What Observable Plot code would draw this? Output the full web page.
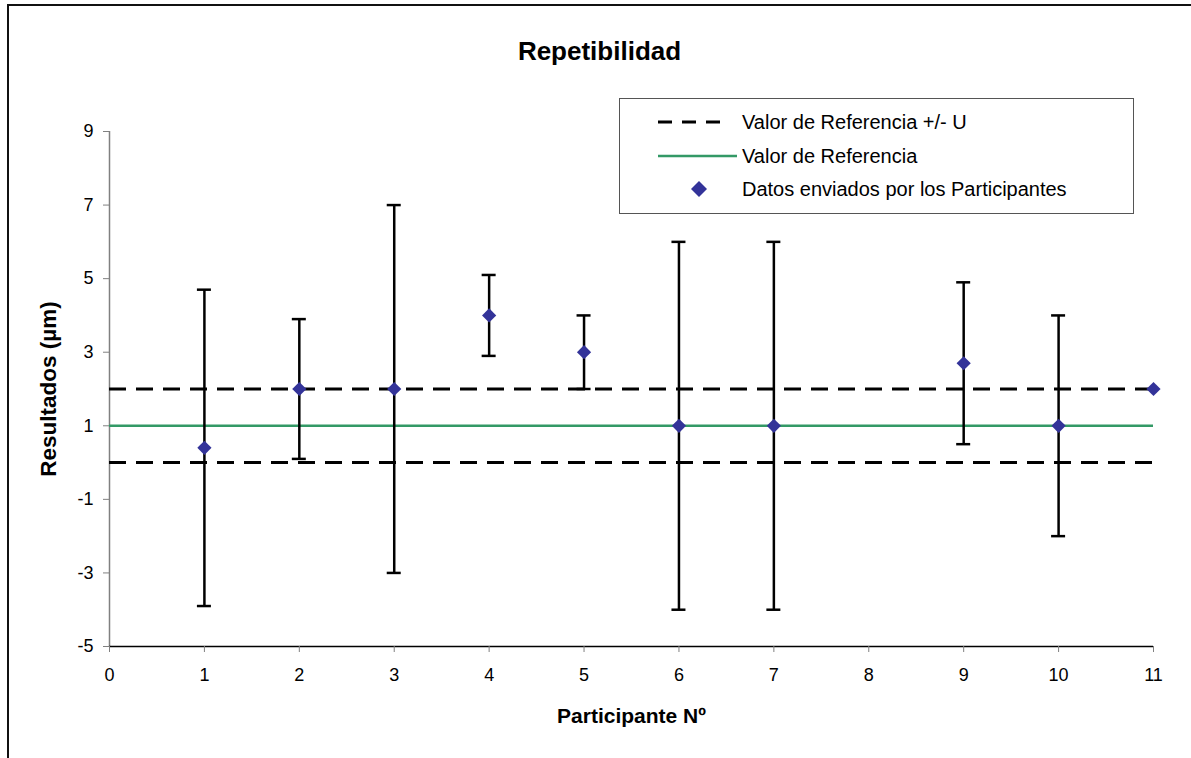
<!DOCTYPE html>
<html>
<head>
<meta charset="utf-8">
<script src="https://cdn.jsdelivr.net/npm/d3@7"></script>
<script src="https://cdn.jsdelivr.net/npm/@observablehq/plot@0.6"></script>
<style>
  html, body { margin: 0; padding: 0; background: #fff; }
  #wrap { position: relative; width: 1191px; height: 758px; overflow: hidden; font-family: "Liberation Sans", Arial, sans-serif; }
  #frame { position: absolute; left: 7px; top: 4px; width: 1300px; height: 900px; border: 2px solid #111; box-sizing: border-box; }
  #chart { position: absolute; left: 0; top: 0; }
  #title { position: absolute; left: 0; width: 1199px; top: 36px; text-align: center; font-weight: bold; font-size: 26px; color: #000; }
  #legend { position: absolute; left: 619px; top: 98px; width: 515px; height: 116px; border: 1.5px solid #555; box-sizing: border-box; background: #fff; }
  .row { position: absolute; left: 0; height: 30px; display: flex; align-items: center; font-size: 20px; color: #000; }
  .row svg { display: block; }
</style>
</head>
<body>
<div id="wrap">
  <div id="frame"></div>
  <div id="chart"></div>
  <div id="title">Repetibilidad</div>
  <div id="legend"></div>
</div>
<script>
// ---- data ----
const participants = [1, 2, 3, 4, 5, 6, 7, 9, 10, 11];
const values       = [0.4, 2, 2, 4, 3, 1, 1, 2.7, 1, 2];
const upper        = [4.7, 3.9, 7, 5.1, 4, 6, 6, 4.9, 4, null];
const lower        = [-3.9, 0.1, -3, 2.9, 2, -4, -4, 0.5, -2, null];
const refValue = 1;
const refUpper = 2;
const refLower = 0;
const xDomain = [0, 11];
const yDomain = [-5, 9];
const xTicks = [0, 1, 2, 3, 4, 5, 6, 7, 8, 9, 10, 11];
const yTicks = [-5, -3, -1, 1, 3, 5, 7, 9];
const xLabel = "Participante Nº";
const yLabel = "Resultados (µm)";
const legendLabels = ["Valor de Referencia +/- U", "Valor de Referencia", "Datos enviados por los Participantes"];

const rows = participants.map((p, i) => ({ p, v: values[i], hi: upper[i], lo: lower[i] }));
const bars = rows.filter(d => d.hi != null);
const bounds = [refLower, refUpper];
const fmt = d => String(d);

const chart = Plot.plot({
  width: 1191,
  height: 758,
  marginLeft: 109,
  marginRight: 38,
  marginTop: 131,
  marginBottom: 112,
  style: { fontFamily: "Liberation Sans, Arial, sans-serif", fontSize: "18px", background: "transparent", color: "#000" },
  x: { domain: xDomain, ticks: xTicks },
  y: { domain: yDomain, ticks: yTicks },
  marks: [
    Plot.ruleX([xDomain[0]], { y1: yDomain[0], y2: yDomain[1], stroke: "#808080", strokeWidth: 1.5 }),
    Plot.ruleY([yDomain[0]], { x1: xDomain[0], x2: xDomain[1], stroke: "#000", strokeWidth: 1.5 }),
    Plot.axisY({ ticks: yTicks, tickFormat: fmt, tickSize: 6, tickPadding: 10, stroke: "#808080", fill: "#000", fontSize: 18, label: null }),
    Plot.axisX({ ticks: xTicks, tickFormat: fmt, tickSize: 6, tickPadding: 16, stroke: "#808080", fill: "#000", fontSize: 18, label: null }),
    Plot.text([yLabel], { frameAnchor: "left", textAnchor: "middle", lineAnchor: "middle", rotate: -90, dx: -61, fontSize: 22.5, fontWeight: "bold", fill: "#000" }),
    Plot.text([xLabel], { frameAnchor: "bottom", textAnchor: "middle", lineAnchor: "middle", dy: 70, fontSize: 21, fontWeight: "bold", fill: "#000" }),
    Plot.ruleY(bounds, { x1: xDomain[0], x2: xDomain[1], stroke: "#000", strokeWidth: 3, strokeDasharray: "17,10" }),
    Plot.ruleY([refValue], { x1: xDomain[0], x2: xDomain[1], stroke: "#339966", strokeWidth: 2.5 }),
    Plot.ruleX(bars, { x: "p", y1: "lo", y2: "hi", stroke: "#000", strokeWidth: 2.5 }),
    Plot.ruleY(bars, { x1: "p", x2: "p", y: "hi", insetLeft: -7, insetRight: -7, stroke: "#000", strokeWidth: 2.5 }),
    Plot.ruleY(bars, { x1: "p", x2: "p", y: "lo", insetLeft: -7, insetRight: -7, stroke: "#000", strokeWidth: 2.5 }),
    Plot.dot(rows, { x: "p", y: "v", symbol: "diamond2", r: 6.4, fill: "#333399", stroke: "none" })
  ]
});
document.getElementById("chart").appendChild(chart);

// ---- legend ----
const legend = document.getElementById("legend");
const rowTops = [8, 42, 75];
const swatches = [
  `<svg width="122" height="30"><line x1="38" x2="110" y1="15" y2="15" stroke="#000" stroke-width="3" stroke-dasharray="14,10"/></svg>`,
  `<svg width="122" height="30"><line x1="38" x2="117" y1="15" y2="15" stroke="#339966" stroke-width="2.5"/></svg>`,
  `<svg width="122" height="30"><polygon points="79,7 87,15 79,23 71,15" fill="#333399"/></svg>`
];
legendLabels.forEach((lab, i) => {
  const r = document.createElement("div");
  r.className = "row";
  r.style.top = rowTops[i] + "px";
  r.innerHTML = swatches[i] + `<span>${lab}</span>`;
  legend.appendChild(r);
});
</script>
</body>
</html>
